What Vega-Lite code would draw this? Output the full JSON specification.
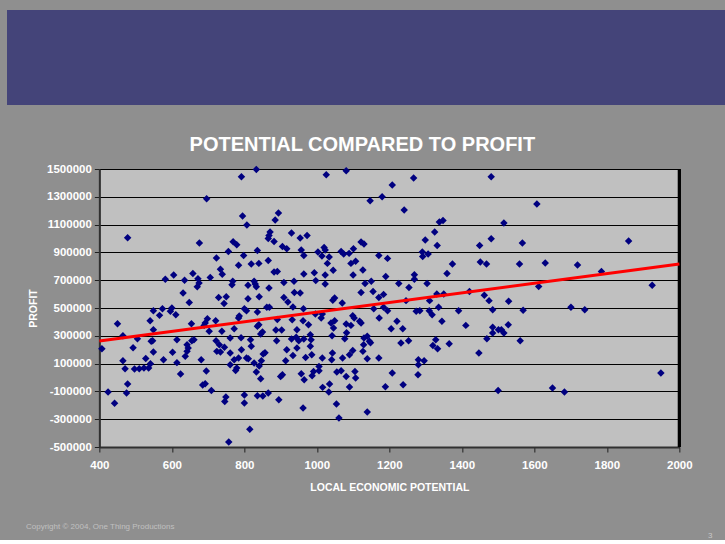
{
  "$schema": "https://vega.github.io/schema/vega-lite/v6.json",
  "background": "#8f8f8f",
  "padding": {"left": 7, "top": 10, "right": 0, "bottom": 0},
  "bounds": "full",
  "center": true,
  "spacing": 29,
  "title": {
    "text": "3", "orient": "bottom", "anchor": "start", "dx": 701, "offset": -2,
    "font": "Liberation Sans", "fontSize": 8, "fontWeight": "normal", "color": "#c8c8c8"
  },
  "config": {
    "axis": {
      "labelColor": "#ffffff", "labelFont": "Liberation Sans", "labelFontWeight": "bold", "labelFontSize": 11.5,
      "titleColor": "#ffffff", "titleFont": "Liberation Sans", "titleFontWeight": "bold", "titleFontSize": 10.5,
      "tickColor": "#202020", "tickSize": 5, "domainColor": "#303030", "domainWidth": 2,
      "gridColor": "#000000", "gridWidth": 1, "gridOpacity": 1, "labelFlush": false
    },
    "axisX": {"labelPadding": 7, "titlePadding": 12},
    "axisY": {"labelPadding": 3, "titlePadding": 8}
  },
  "datasets": {
    "points": [
      {"x":407,"y":207000},{"x":424,"y":-104000},{"x":442,"y":-186000},{"x":450,"y":387000},{"x":465,"y":301000},{"x":465,"y":121000},{"x":471,"y":63000},{"x":478,"y":-47000},{"x":475,"y":-112000},{"x":478,"y":1006000},
      {"x":493,"y":214000},{"x":497,"y":61000},{"x":505,"y":279000},{"x":510,"y":63000},{"x":523,"y":68000},{"x":528,"y":137000},{"x":536,"y":68000},{"x":541,"y":99000},{"x":540,"y":409000},{"x":549,"y":481000},
      {"x":543,"y":260000},{"x":549,"y":344000},{"x":547,"y":265000},{"x":549,"y":183000},{"x":574,"y":495000},{"x":566,"y":447000},{"x":577,"y":128000},{"x":596,"y":476000},{"x":600,"y":500000},{"x":611,"y":452000},
      {"x":602,"y":181000},{"x":614,"y":272000},{"x":614,"y":107000},{"x":624,"y":25000},{"x":637,"y":152000},{"x":642,"y":188000},{"x":645,"y":212000},{"x":642,"y":236000},{"x":654,"y":387000},{"x":661,"y":272000},
      {"x":655,"y":265000},{"x":681,"y":128000},{"x":685,"y":-54000},{"x":692,"y":-45000},{"x":695,"y":47000},{"x":709,"y":-93000},{"x":689,"y":375000},{"x":692,"y":392000},{"x":698,"y":423000},{"x":703,"y":332000},
      {"x":721,"y":409000},{"x":722,"y":265000},{"x":731,"y":236000},{"x":738,"y":332000},{"x":724,"y":188000},{"x":734,"y":183000},{"x":745,"y":217000},{"x":761,"y":284000},{"x":772,"y":351000},{"x":761,"y":176000},
      {"x":761,"y":92000},{"x":772,"y":128000},{"x":779,"y":68000},{"x":776,"y":51000},{"x":784,"y":140000},{"x":749,"y":-140000},{"x":746,"y":-172000},{"x":800,"y":-126000},{"x":800,"y":-183000},{"x":815,"y":-373000},
      {"x":757,"y":-464000},{"x":786,"y":443000},{"x":784,"y":428000},{"x":791,"y":286000},{"x":792,"y":200000},{"x":800,"y":495000},{"x":806,"y":481000},{"x":811,"y":135000},{"x":806,"y":140000},{"x":817,"y":272000},
      {"x":819,"y":224000},{"x":827,"y":104000},{"x":833,"y":40000},{"x":836,"y":-131000},{"x":851,"y":-133000},{"x":866,"y":-112000},{"x":845,"y":-9000},{"x":841,"y":82000},{"x":847,"y":121000},{"x":852,"y":169000},
      {"x":845,"y":313000},{"x":850,"y":327000},{"x":836,"y":368000},{"x":840,"y":380000},{"x":836,"y":471000},{"x":857,"y":178000},{"x":862,"y":505000},{"x":869,"y":505000},{"x":891,"y":418000},{"x":887,"y":342000},
      {"x":903,"y":342000},{"x":889,"y":265000},{"x":900,"y":8000},{"x":905,"y":20000},{"x":895,"y":-160000},{"x":914,"y":121000},{"x":917,"y":200000},
      {"x":934,"y":507000},{"x":963,"y":495000},{"x":932,"y":416000},{"x":945,"y":344000},{"x":962,"y":409000},{"x":977,"y":380000},{"x":996,"y":457000},{"x":1012,"y":428000},{"x":1015,"y":457000},{"x":930,"y":277000},
      {"x":943,"y":289000},{"x":950,"y":265000},{"x":945,"y":212000},{"x":934,"y":159000},{"x":964,"y":277000},{"x":982,"y":308000},{"x":984,"y":272000},{"x":982,"y":224000},{"x":969,"y":144000},{"x":986,"y":164000},
      {"x":957,"y":27000},{"x":965,"y":-16000},{"x":987,"y":13000},{"x":991,"y":44000},{"x":1006,"y":80000},{"x":1006,"y":49000},{"x":1015,"y":140000},{"x":1016,"y":-71000},{"x":1035,"y":-47000},{"x":1033,"y":-104000},
      {"x":962,"y":-219000},{"x":1054,"y":-191000},{"x":1061,"y":-292000},{"x":1039,"y":392000},{"x":1046,"y":356000},{"x":1049,"y":409000},{"x":1042,"y":301000},{"x":1043,"y":176000},{"x":1041,"y":128000},{"x":1055,"y":40000},
      {"x":1067,"y":49000},{"x":1071,"y":140000},{"x":1077,"y":279000},{"x":1082,"y":322000},{"x":1081,"y":385000},{"x":1094,"y":375000},{"x":1099,"y":445000},{"x":1103,"y":428000},{"x":1090,"y":164000},{"x":1099,"y":195000},
      {"x":1081,"y":8000},{"x":1090,"y":-68000},{"x":1105,"y":44000},{"x":1107,"y":-4000},{"x":1118,"y":404000},{"x":1122,"y":392000},{"x":1127,"y":188000},{"x":1130,"y":284000},{"x":1129,"y":236000},{"x":1139,"y":296000},
      {"x":1145,"y":260000},{"x":1148,"y":250000},{"x":1139,"y":135000},{"x":1139,"y":-248000},{"x":1157,"y":495000},{"x":1172,"y":428000},{"x":1171,"y":140000},{"x":1189,"y":-66000},{"x":1184,"y":505000},{"x":1195,"y":481000},
      {"x":1205,"y":351000},{"x":1221,"y":404000},{"x":1237,"y":351000},{"x":1208,"y":32000},{"x":1232,"y":248000},{"x":1238,"y":-52000},{"x":1253,"y":265000},{"x":1274,"y":476000},{"x":1284,"y":481000},{"x":1280,"y":128000},
      {"x":1280,"y":92000},{"x":1279,"y":20000},{"x":1296,"y":121000},{"x":1310,"y":481000},{"x":1318,"y":452000},{"x":1336,"y":505000},{"x":1345,"y":404000},{"x":1328,"y":272000},{"x":1320,"y":231000},{"x":1333,"y":207000},
      {"x":1365,"y":243000},{"x":1391,"y":481000},{"x":1411,"y":375000},{"x":1447,"y":176000},{"x":1469,"y":279000},
      {"x":1485,"y":488000},{"x":1485,"y":361000},{"x":1485,"y":320000},{"x":1501,"y":344000},{"x":1509,"y":344000},{"x":1516,"y":320000},{"x":1528,"y":380000},{"x":1561,"y":265000},{"x":1569,"y":483000},{"x":1701,"y":505000},
      {"x":1739,"y":488000},{"x":1500,"y":-93000},{"x":1650,"y":-76000},{"x":1683,"y":-104000},{"x":1949,"y":32000},
      {"x":1481,"y":1444000},{"x":1607,"y":1248000},{"x":1516,"y":1112000},{"x":1481,"y":999000},{"x":1567,"y":968000},{"x":1860,"y":982000},{"x":1559,"y":817000},{"x":1630,"y":824000},{"x":1719,"y":809000},{"x":1785,"y":763000},
      {"x":1612,"y":655000},{"x":1925,"y":663000},{"x":1529,"y":548000},
      {"x":1026,"y":1459000},{"x":1081,"y":1488000},{"x":1267,"y":1435000},{"x":1208,"y":1385000},{"x":1147,"y":1272000},{"x":1180,"y":1301000},{"x":1241,"y":1205000},{"x":1338,"y":1119000},{"x":1348,"y":1130000},{"x":1325,"y":1047000},
      {"x":1299,"y":989000},{"x":1332,"y":950000},{"x":1449,"y":950000},{"x":930,"y":1040000},{"x":954,"y":1004000},{"x":973,"y":1022000},{"x":957,"y":917000},{"x":964,"y":878000},{"x":1003,"y":903000},{"x":1014,"y":874000},
      {"x":1020,"y":936000},{"x":1023,"y":917000},{"x":1034,"y":867000},{"x":1029,"y":821000},{"x":1067,"y":907000},{"x":1074,"y":888000},{"x":1089,"y":893000},{"x":1101,"y":927000},{"x":1122,"y":975000},{"x":1130,"y":960000},
      {"x":1094,"y":821000},{"x":1107,"y":836000},{"x":1045,"y":771000},{"x":993,"y":754000},{"x":997,"y":697000},{"x":1023,"y":737000},{"x":1023,"y":673000},{"x":964,"y":745000},{"x":937,"y":692000},{"x":1100,"y":737000},
      {"x":1127,"y":773000},{"x":1171,"y":878000},{"x":1195,"y":857000},{"x":1190,"y":727000},{"x":1133,"y":677000},{"x":1150,"y":692000},{"x":1122,"y":612000},{"x":1155,"y":619000},{"x":1184,"y":598000},{"x":1171,"y":576000},
      {"x":1049,"y":572000},{"x":1070,"y":536000},{"x":1044,"y":555000},{"x":938,"y":612000},{"x":954,"y":608000},{"x":1226,"y":677000},{"x":1254,"y":648000},{"x":1269,"y":740000},{"x":1269,"y":706000},{"x":1291,"y":903000},
      {"x":1292,"y":871000},{"x":1307,"y":888000},{"x":1304,"y":677000},{"x":1374,"y":817000},{"x":1359,"y":749000},{"x":1331,"y":601000},{"x":1350,"y":601000},{"x":1311,"y":553000},{"x":1421,"y":619000},{"x":1451,"y":831000},
      {"x":1468,"y":817000},{"x":1462,"y":591000},{"x":1475,"y":553000},{"x":1246,"y":553000},
      {"x":833,"y":1497000},{"x":792,"y":1444000},{"x":696,"y":1286000},{"x":795,"y":1162000},{"x":807,"y":1097000},{"x":894,"y":1183000},{"x":885,"y":1133000},{"x":871,"y":1047000},{"x":868,"y":1022000},{"x":866,"y":1000000},
      {"x":882,"y":979000},{"x":905,"y":943000},{"x":917,"y":927000},{"x":676,"y":968000},{"x":769,"y":977000},{"x":779,"y":955000},{"x":756,"y":907000},{"x":798,"y":878000},{"x":836,"y":914000},{"x":723,"y":860000},
      {"x":819,"y":817000},{"x":840,"y":821000},{"x":866,"y":842000},{"x":784,"y":807000},{"x":734,"y":778000},{"x":739,"y":742000},{"x":658,"y":749000},{"x":672,"y":711000},{"x":706,"y":720000},{"x":605,"y":737000},
      {"x":582,"y":706000},{"x":635,"y":699000},{"x":675,"y":680000},{"x":670,"y":653000},{"x":631,"y":608000},{"x":648,"y":540000},{"x":729,"y":576000},{"x":750,"y":581000},{"x":744,"y":533000},{"x":768,"y":692000},
      {"x":766,"y":668000},{"x":810,"y":663000},{"x":810,"y":567000},{"x":827,"y":692000},{"x":830,"y":673000},{"x":833,"y":653000},{"x":841,"y":581000},{"x":868,"y":644000},{"x":882,"y":759000},{"x":891,"y":763000},
      {"x":909,"y":684000},{"x":909,"y":576000},{"x":920,"y":543000}
    ],
    "trend": [{"x": 400, "y": 263000}, {"x": 2000, "y": 817000}]
  },
  "vconcat": [
    {
      "width": 778,
      "height": 95,
      "view": {"fill": "#444479", "stroke": null},
      "data": {"values": []},
      "mark": "point"
    },
    {
      "width": 580,
      "height": 278,
      "title": {
        "text": "POTENTIAL COMPARED TO PROFIT",
        "font": "Liberation Sans", "fontSize": 20, "fontWeight": "bold", "color": "#ffffff",
        "anchor": "middle", "dx": -27, "offset": -8, "baseline": "alphabetic"
      },
      "view": {"fill": "#c0c0c0", "stroke": "#808080", "strokeWidth": 1},
      "layer": [
        {
          "data": {"name": "points"},
          "mark": {"type": "point", "shape": "diamond", "filled": true, "size": 56, "color": "#000080", "opacity": 1},
          "encoding": {
            "x": {
              "field": "x", "type": "quantitative",
              "scale": {"domain": [400, 2000], "nice": false, "zero": false},
              "axis": {"values": [400, 600, 800, 1000, 1200, 1400, 1600, 1800, 2000], "tickCount": 9, "title": "LOCAL ECONOMIC POTENTIAL", "grid": false, "labelExpr": "'' + datum.value"}
            },
            "y": {
              "field": "y", "type": "quantitative",
              "scale": {"domain": [-500000, 1500000], "nice": false, "zero": false},
              "axis": {"values": [-500000, -300000, -100000, 100000, 300000, 500000, 700000, 900000, 1100000, 1300000, 1500000], "tickCount": 11, "title": "PROFIT", "grid": true, "labelExpr": "'' + datum.value"}
            }
          }
        },
        {
          "data": {"name": "trend"},
          "mark": {"type": "rule", "color": "#000000", "strokeWidth": 3},
          "encoding": {"x": {"datum": 2000, "type": "quantitative"}}
        },
        {
          "data": {"name": "trend"},
          "mark": {"type": "line", "color": "#ff0000", "strokeWidth": 3},
          "encoding": {
            "x": {"field": "x", "type": "quantitative"},
            "y": {"field": "y", "type": "quantitative"}
          }
        }
      ]
    },
    {
      "width": 778,
      "height": 2,
      "view": {"fill": null, "stroke": null},
      "title": {
        "text": "Copyright © 2004, One Thing Productions", "anchor": "start", "dx": 19, "dy": 3,
        "font": "Liberation Sans", "fontSize": 8, "fontWeight": "normal", "color": "#c0c0c0"
      },
      "data": {"values": []},
      "mark": "point"
    }
  ]
}
